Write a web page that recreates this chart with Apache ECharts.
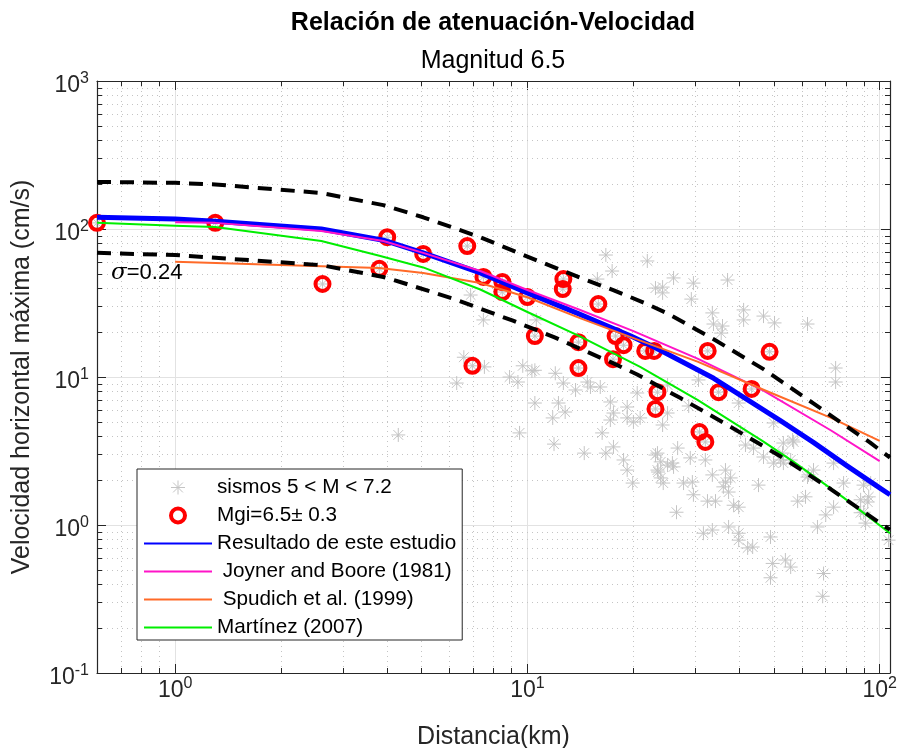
<!DOCTYPE html>
<html>
<head>
<meta charset="utf-8">
<script src="https://cdn.jsdelivr.net/npm/echarts/dist/echarts.min.js"></script>
<style>
  html, body { margin: 0; padding: 0; background: #fff; }
  #main { width: 898px; height: 748px; }
</style>
</head>
<body>
<div id="main"></div>
<script>
// ---------- datos ----------
const X_MIN = 0.6, X_MAX = 107, Y_MIN = 0.1, Y_MAX = 1000;

// sismos 5 < M < 7.2  [distancia km, velocidad cm/s]
const sismos = [
  [16.7,66.7],[17.4,52],[15.8,45.9],[6.9,35.8],[7.5,24.3],[10.6,24.3],[6.6,13.6],[7.55,11.7],
  [9.7,11.9],[10.3,11.0],[10.5,11.1],[8.9,10],[9.4,9.25],[6.3,9.1],[12.0,10.6],[12.65,9.1],
  [13.7,8.17],[14.8,9.25],[15.1,8.56],[16.1,8.56],[10.5,6.67],[12.25,6.67],[12.8,5.8],[11.8,5.29],
  [9.5,4.19],[4.3,4.06],[11.9,3.52],[14.5,3.06],[16.3,4.19],[17.2,6.78],[17.55,5.71],[17.2,5.12],
  [19.2,6.27],[19.2,5.29],[20.0,4.97],[16.7,3.06],[17.55,3.37],[18.75,2.75],[19.2,2.35],[19.9,1.92],
  [20.5,7.8],[21.9,60.8],[23.1,39.9],[24.2,40.5],[24.2,37.0],[26.0,46.7],[29.6,43.1],[29.2,33.6],
  [37.0,45.2],[33.5,27.1],[33.75,22.8],[35.8,22.1],[35.5,19.8],[41.1,28.4],[41.1,24.3],[46.8,25.8],
  [50.3,23.2],[62.4,22.8],[75,11.5],[75,9.25],[20.9,5.29],[25,8.83],[30.6,9.55],[28.7,6.37],
  [25,5.71],[24.2,4.74],[39.8,6.67],[50,4.89],[56.6,3.75],[26.7,3.31],[23.4,3.06],[23.9,2.67],
  [25.8,2.62],[29,2.84],[32,2.75],[33.5,2.18],[36.5,2.35],[37.75,2.08],[40.3,4.25],[46.8,2.88],
  [53,3.06],[53.3,2.62],[45.3,1.86],[79,1.92],[62.4,2.11],[90,1.86],[23.1,2.97],[23.5,2.28],
  [23.9,2.08],[24.3,1.92],[25,2.54],[26,2.47],[26.5,1.22],[27.75,1.92],[29.4,1.95],[29.6,1.6],
  [32.45,1.45],[34.2,1.45],[36.5,1.95],[37.25,1.67],[38.5,1.36],[39.8,1.32],[41.6,3.47],[43.85,3.31],
  [50,2.62],[52.3,2.75],[53.3,3.58],[57,3.64],[55.9,2.75],[37.25,0.97],[39.8,0.88],[39.8,0.79],
  [42.2,0.70],[43.6,0.71],[31.6,0.88],[33.5,0.925],[49,0.83],[49.7,0.55],[54,0.58],[55.9,0.52],
  [49,0.44],[69.3,0.47],[68.9,0.33],[58.5,1.45],[61.6,1.55],[66.6,0.97],[70.3,1.17],[74,1.32],
  [88.3,1.48],[88.3,1.21],[91.2,1.03],[93.1,1.55],[94.3,1.92],[62.8,2.18],[74,2.62],[92.5,1.43],
  [90.1,1.22],[106,0.79],[23.4,2.35],[36,1.81],[64.9,2.35]
];

// Mgi = 6.5 ± 0.3
const mgi = [
  [0.6,110],[1.3,110],[2.62,42.5],[3.8,53.8],[4.0,88],[5.06,67.8],[6.75,76.7],[7.5,47.4],
  [8.49,43.8],[8.49,37.5],[10,34.7],[12.65,45.9],[12.6,39.3],[15.9,31.1],[10.5,18.9],[6.98,11.9],
  [13.96,17.2],[13.96,11.5],[17.8,18.9],[18.75,16.4],[17.5,13.2],[21.6,15.0],[22.9,15.0],[32.5,15.0],
  [48.7,14.8],[23.4,7.9],[23.1,6.08],[34.9,7.9],[43.3,8.3],[30.8,4.25],[32.0,3.64]
];

// curvas
const resultado = [[0.6,120],[1,117],[1.3,113],[2.6,100],[3.9,84],[5.06,69],[7.35,50.5],[10,37],
  [14,26.7],[19.6,19.0],[22.8,16.0],[30.4,11.2],[33.8,9.8],[42.2,7.0],[52.4,5.05],[65,3.6],
  [81,2.5],[100,1.78],[107,1.6]];
const joyner = [[1,111],[1.3,110],[2.6,97],[3.9,83],[5.06,69],[7.35,52],[10,38.7],[14,28.6],
  [20,20.4],[30.4,13.3],[46.8,8.1],[72.8,4.35],[100,2.7]];
const spudich = [[1,60],[2.6,56],[3.8,54.5],[5.06,50.5],[7.35,43.2],[10,34.6],[14.1,25.0],
  [20,18.3],[30.4,12.7],[46.8,8.2],[72.8,5.3],[100,3.7]];
const martinez = [[0.6,110],[1,105],[1.3,103],[2.6,83],[3.8,66],[5.06,55],[7.35,39],[10,27.5],
  [14.1,18.8],[20.9,11.7],[30.4,7.0],[46.8,3.66],[57,2.67],[79,1.53],[107,0.88]];
const sigmaSup = [[0.6,208],[1,205],[1.3,200],[2.6,175],[3.9,145],[5.06,120],[7.35,88],[10,65],
  [14.4,46],[17.6,38.5],[21.6,31.5],[24.9,27],[33.8,18.0],[46.8,11.3],[65,6.6],[94,3.6],[107,2.85]];
const sigmaInf = [[0.6,69],[1,66.7],[2.6,57],[3.9,47.4],[4.4,43.5],[6.3,33.2],[9.1,24],[11.9,18.6],
  [14.4,15.2],[17.5,12.4],[20.5,10.4],[27.2,7.2],[37.8,4.6],[52.4,2.9],[72.6,1.75],[102,1.0],
  [107,0.93]];

// ticks menores
const xMinorTicks = [0.7,0.8,0.9,2,3,4,5,6,7,8,9,20,30,40,50,60,70,80,90];
const yMinorTicks = [0.2,0.3,0.4,0.5,0.6,0.7,0.8,0.9,2,3,4,5,6,7,8,9,
  20,30,40,50,60,70,80,90,200,300,400,500,600,700,800,900];

// ---------- estilo ----------
const FONT = '"Liberation Sans", Arial, Helvetica, sans-serif';
const AXIS_COLOR = '#262626';
const MINOR_GRID = '#c4c4c4';

function powLabel(v) {
  const e = Math.log10(v);
  if (Math.abs(e - Math.round(e)) > 1e-6) return '';
  return '{b|10}{s|' + Math.round(e) + '}';
}
const tickRich = {
  b: { fontSize: 23, fontFamily: FONT, color: AXIS_COLOR, lineHeight: 26, verticalAlign: 'bottom' },
  s: { fontSize: 16, fontFamily: FONT, color: AXIS_COLOR, lineHeight: 14, verticalAlign: 'top' }
};

function xMinorItem(params, api) {
  const v = api.value(0);
  const a = api.coord([v, Y_MAX]);
  const b = api.coord([v, Y_MIN]);
  const x = Math.round(a[0]) + 0.5;
  return { type: 'group', children: [
    { type: 'line', shape: { x1: x, y1: a[1], x2: x, y2: b[1] }, style: { stroke: MINOR_GRID, lineWidth: 1, lineDash: [1, 4] } },
    { type: 'line', shape: { x1: x, y1: b[1], x2: x, y2: b[1] - 5 }, style: { stroke: AXIS_COLOR, lineWidth: 1 } },
    { type: 'line', shape: { x1: x, y1: a[1], x2: x, y2: a[1] + 5 }, style: { stroke: AXIS_COLOR, lineWidth: 1 } }
  ]};
}
function yMinorItem(params, api) {
  const v = api.value(1);
  const a = api.coord([X_MIN, v]);
  const b = api.coord([X_MAX, v]);
  const y = Math.round(a[1]) + 0.5;
  return { type: 'group', children: [
    { type: 'line', shape: { x1: a[0], y1: y, x2: b[0], y2: y }, style: { stroke: MINOR_GRID, lineWidth: 1, lineDash: [1, 4] } },
    { type: 'line', shape: { x1: a[0], y1: y, x2: a[0] + 5, y2: y }, style: { stroke: AXIS_COLOR, lineWidth: 1 } },
    { type: 'line', shape: { x1: b[0], y1: y, x2: b[0] - 5, y2: y }, style: { stroke: AXIS_COLOR, lineWidth: 1 } }
  ]};
}

function lineSeries(name, data, color, width, dash) {
  return {
    name, type: 'line', data, symbol: 'none', smooth: false,
    lineStyle: { color, width, type: dash || 'solid', cap: 'butt', join: 'round' },
    itemStyle: { color }, z: 4
  };
}

// leyenda de líneas sin el círculo
function lineLegend(name) {
  return { name, itemStyle: { opacity: 0 } };
}

const axisBase = {
  type: 'log', logBase: 10,
  axisLine: { show: true, onZero: false, lineStyle: { color: AXIS_COLOR, width: 1.2 } },
  axisTick: { show: true, inside: true, length: 9, lineStyle: { color: AXIS_COLOR, width: 1 } }
};

const STAR = 'path://M5,0L5,10M0,5L10,5M1.5,1.5L8.5,8.5M8.5,1.5L1.5,8.5';

const chart = echarts.init(document.getElementById('main'), null, { renderer: 'canvas' });
chart.setOption({
  animation: false,
  backgroundColor: '#fff',
  grid: { left: 97, right: 8, top: 81, bottom: 75, show: false, containLabel: false, outerBoundsMode: 'none' },
  xAxis: [
    Object.assign({}, axisBase, {
      min: X_MIN, max: X_MAX, position: 'bottom',
      axisLabel: { formatter: powLabel, rich: tickRich, margin: 3, hideOverlap: false },
      splitLine: { show: true, lineStyle: { color: '#e2e2e2', width: 1 } },
      name: 'Distancia(km)', nameLocation: 'middle', nameGap: 52,
      nameTextStyle: { fontSize: 25, fontFamily: FONT, color: AXIS_COLOR }
    }),
    Object.assign({}, axisBase, {
      min: X_MIN, max: X_MAX, position: 'top',
      axisLabel: { show: false }, splitLine: { show: false }
    })
  ],
  yAxis: [
    Object.assign({}, axisBase, {
      min: Y_MIN, max: Y_MAX, position: 'left',
      axisLabel: { formatter: powLabel, rich: tickRich, margin: 8, align: 'right', padding: [6, 0, 0, 0] },
      splitLine: { show: true, lineStyle: { color: '#e2e2e2', width: 1 } },
      name: 'Velocidad horizontal máxima (cm/s)', nameLocation: 'middle', nameGap: 62,
      nameTextStyle: { fontSize: 25, fontFamily: FONT, color: AXIS_COLOR }
    }),
    Object.assign({}, axisBase, {
      min: Y_MIN, max: Y_MAX, position: 'right',
      axisLabel: { show: false }, splitLine: { show: false }
    })
  ],
  legend: {
    orient: 'vertical', left: 137, top: 469,
    padding: [8, 6, 2, 6], itemGap: 7, itemWidth: 68, itemHeight: 14,
    backgroundColor: '#fff', borderColor: AXIS_COLOR, borderWidth: 1,
    selectedMode: false,
    textStyle: { fontSize: 20.7, fontFamily: FONT, color: '#000', lineHeight: 21 },
    data: [
      { name: 'sismos 5 < M < 7.2', itemStyle: { borderWidth: 1, opacity: 1 } },
      { name: 'Mgi=6.5± 0.3', itemStyle: { borderWidth: 4, opacity: 1 } },
      lineLegend('Resultado de este estudio'),
      lineLegend(' Joyner and Boore (1981)'),
      lineLegend(' Spudich et al. (1999)'),
      lineLegend('Martínez (2007)')
    ]
  },
  graphic: [
    { type: 'text', x: 493, y: 23, style: { text: 'Relación de atenuación-Velocidad', font: 'bold 25px ' + FONT, fill: '#000', textAlign: 'center', textVerticalAlign: 'middle' } },
    { type: 'text', x: 493, y: 61, style: { text: 'Magnitud 6.5', font: '25px ' + FONT, fill: '#000', textAlign: 'center', textVerticalAlign: 'middle' } },
    { type: 'text', x: 111, y: 273, z: 10, style: {
      text: '{i|σ}=0.24', textVerticalAlign: 'middle',
      rich: { i: { fontStyle: 'italic', fontSize: 23, fontFamily: '"DejaVu Serif", serif', fill: '#000' } },
      font: '22px ' + FONT, fill: '#000'
    } }
  ],
  series: [
    { type: 'custom', renderItem: xMinorItem, data: xMinorTicks.map(v => [v, 1]), silent: true, z: 1 },
    { type: 'custom', renderItem: yMinorItem, data: yMinorTicks.map(v => [1, v]), silent: true, z: 1 },
    {
      name: 'sismos 5 < M < 7.2', type: 'scatter', data: sismos.concat(mgi), symbol: STAR, symbolSize: 14,
      itemStyle: { color: 'rgba(0,0,0,0)', borderColor: '#c4c4c4', borderWidth: 1, opacity: 1 }, z: 2
    },
    {
      name: 'Mgi=6.5± 0.3', type: 'scatter', data: mgi, symbol: 'circle', symbolSize: 14,
      itemStyle: { color: 'rgba(0,0,0,0)', borderColor: '#ff0000', borderWidth: 4, opacity: 1 }, z: 3
    },
    lineSeries('Resultado de este estudio', resultado, '#0000ff', 5),
    lineSeries(' Joyner and Boore (1981)', joyner, '#ff14c8', 2),
    lineSeries(' Spudich et al. (1999)', spudich, '#ff6a28', 2),
    lineSeries('Martínez (2007)', martinez, '#00ee00', 2),
    lineSeries('sigma+', sigmaSup, '#000000', 4, [14, 9]),
    lineSeries('sigma-', sigmaInf, '#000000', 4, [14, 9])
  ]
});
</script>
</body>
</html>
